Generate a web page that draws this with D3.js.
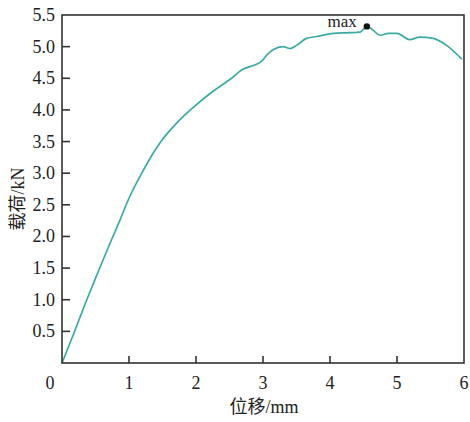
<!DOCTYPE html>
<html>
<head>
<meta charset="utf-8">
<script src="https://cdnjs.cloudflare.com/ajax/libs/d3/7.8.5/d3.min.js"></script>
<style>
  body { margin: 0; background: #fff; }
  text { font-family: "Liberation Serif", "Times New Roman", "Noto Sans CJK SC", serif; fill: #222; }
</style>
</head>
<body>
<div id="chartContainer"></div>
<script>
  // displacement (mm) and load (kN)
  var disp = [0, 0.17, 0.37, 0.52, 0.72, 0.87, 0.99, 1.19, 1.34, 1.49, 1.71, 1.96, 2.21, 2.53, 2.68, 2.98, 3.06,
              3.15, 3.30, 3.40, 3.50, 3.65, 3.80, 4.05, 4.30, 4.45, 4.55, 4.62, 4.75, 4.87, 5.0, 5.19, 5.34, 5.54, 5.74, 5.97];
  var load = [0, 0.45, 1.0, 1.39, 1.90, 2.27, 2.58, 3.0, 3.28, 3.52, 3.79, 4.04, 4.26, 4.50, 4.63, 4.77, 4.87,
              4.95, 5.0, 4.97, 5.02, 5.13, 5.16, 5.21, 5.22, 5.23, 5.32, 5.28, 5.18, 5.21, 5.21, 5.11, 5.15, 5.13, 5.02, 4.80];
  var maxPoint = [4.55, 5.32];
  var xTicks = [1, 2, 3, 4, 5, 6];
  var yTicks = [0.5, 1.0, 1.5, 2.0, 2.5, 3.0, 3.5, 4.0, 4.5, 5.0, 5.5];

  var width = 470, height = 422;
  var svg = d3.select("#chartContainer").append("svg")
    .attr("width", width).attr("height", height);

  var x = d3.scaleLinear().domain([0, 6]).range([62, 464]);
  var y = d3.scaleLinear().domain([0, 5.5]).range([363, 15]);

  var data = disp.map(function (d, i) { return [d, load[i]]; });

  // curve
  svg.append("path")
    .datum(data)
    .attr("fill", "none")
    .attr("stroke", "#3caaa2")
    .attr("stroke-width", 1.7)
    .attr("d", d3.line().curve(d3.curveMonotoneX)
      .x(function (d) { return x(d[0]); }).y(function (d) { return y(d[1]); }));

  // max marker
  svg.append("circle")
    .attr("cx", x(maxPoint[0])).attr("cy", y(maxPoint[1]))
    .attr("r", 3.2).attr("fill", "#111");
  svg.append("text")
    .attr("x", x(maxPoint[0]) - 10).attr("y", y(maxPoint[1]) + 0.5)
    .attr("text-anchor", "end")
    .style("font-size", "17px")
    .text("max");

  // frame
  var ax = svg.append("g").attr("stroke", "#333").attr("stroke-width", 1.6).attr("fill", "none");
  ax.append("rect")
    .attr("x", x(0)).attr("y", y(5.5))
    .attr("width", x(6) - x(0)).attr("height", y(0) - y(5.5));

  // y ticks (inward)
  yTicks.forEach(function (t) {
    if (t < 5.5) {
      ax.append("line").attr("x1", x(0)).attr("x2", x(0) + 8).attr("y1", y(t)).attr("y2", y(t));
    }
    svg.append("text")
      .attr("x", 55).attr("y", y(t) + 6)
      .attr("text-anchor", "end")
      .style("font-size", "18px")
      .text(t.toFixed(1));
  });

  // x ticks (inward)
  xTicks.forEach(function (t) {
    if (t < 6) {
      ax.append("line").attr("x1", x(t)).attr("x2", x(t)).attr("y1", y(0)).attr("y2", y(0) - 7);
    }
    svg.append("text")
      .attr("x", x(t)).attr("y", 389)
      .attr("text-anchor", "middle")
      .style("font-size", "18px")
      .text(t);
  });
  svg.append("text")
    .attr("x", 50).attr("y", 389)
    .attr("text-anchor", "middle")
    .style("font-size", "18px")
    .text("0");

  // axis titles
  svg.append("text")
    .attr("x", 264).attr("y", 413)
    .attr("text-anchor", "middle")
    .style("font-size", "18px")
    .text("位移/mm");
  svg.append("text")
    .attr("transform", "translate(24,199) rotate(-90)")
    .attr("text-anchor", "middle")
    .style("font-size", "18px")
    .text("载荷/kN");
</script>
</body>
</html>
